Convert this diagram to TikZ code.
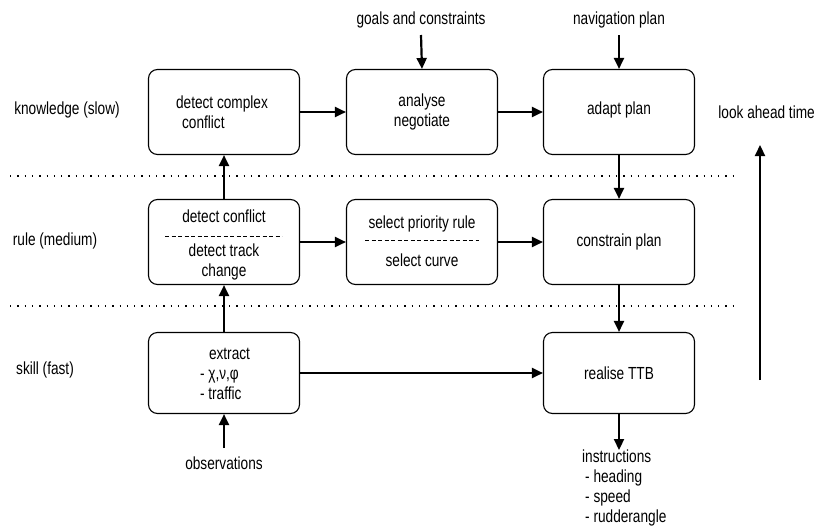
\documentclass[tikz,border=0pt]{standalone}
\usepackage{fontspec}
\setmainfont{Liberation Sans}[FakeStretch=0.78]
\usetikzlibrary{arrows.meta}
\begin{document}
\begin{tikzpicture}[x=1pt,y=-1pt,
  box/.style={draw,line width=1.1pt,rounded corners=9pt,minimum width=151pt,minimum height=85pt,inner sep=0pt},
  flow/.style={line width=2.2pt,-{Triangle[length=11pt,width=10pt]}},
  txt/.style={font=\fontsize{17.5}{20}\selectfont,inner sep=0pt},
  sep/.style={dotted,line width=1.3pt,dash pattern=on 1.3pt off 6pt},
  mid/.style={dashed,line width=1pt,dash pattern=on 4pt off 2.5pt}]
\useasboundingbox (0,0) rectangle (816,525);
\node[box] (b1) at (224,112) {};
\node[box] (b2) at (422,112) {};
\node[box] (b3) at (619,112) {};
\node[box] (b4) at (224,242) {};
\node[box] (b5) at (422,242) {};
\node[box] (b6) at (619,242) {};
\node[box,minimum height=81pt] (b7) at (224,373) {};
\node[box,minimum height=81pt] (b8) at (619,373) {};
% texts
\node[txt,align=left] (t1) at (222,112) {detect complex\\\hspace{6pt}conflict};
\node[txt,align=center] (t2) at (422,112) {analyse\\negotiate};
\node[txt] (t3) at (619,110) {adapt plan};
\node[txt] (t4a) at (224,216) {detect conflict};
\node[txt,align=center] (t4b) at (224,262) {detect track\\change};
\node[txt] (t5a) at (422,224) {select priority rule};
\node[txt] (t5b) at (422,260) {select curve};
\node[txt] (t6) at (619,242) {constrain plan};
\node[txt] (t8) at (619,373) {realise TTB};
\node[txt,align=left] (t7) at (225,374) {\hspace{9pt}extract\\- χ,ν,φ\\- traffic};
\coordinate (d4l) at (165,236); \coordinate (d4r) at (282,236);
\draw[mid] (d4l) -- (d4r);
\coordinate (d5l) at (365,240); \coordinate (d5r) at (479,240);
\draw[mid] (d5l) -- (d5r);
% row labels
\node[txt] (l1) at (67,110) {knowledge (slow)};
\node[txt] (l2) at (55,241) {rule (medium)};
\node[txt] (l3) at (45,370) {skill (fast)};
% separators
\coordinate (s1a) at (10,176); \coordinate (s1b) at (735,176);
\coordinate (s2a) at (10,306); \coordinate (s2b) at (735,306);
\draw[sep] (s1a) -- (s1b);
\draw[sep] (s2a) -- (s2b);
% inputs
\node[txt] (goals) at (421,20) {goals and constraints};
\node[txt] (nav) at (619,20) {navigation plan};
\node[txt] (obs) at (224,463) {observations};
\node[txt,align=left,anchor=north west] (ins) at (582,450) {instructions\\\hspace{3pt}- heading\\\hspace{3pt}- speed\\\hspace{3pt}- rudderangle};
\node[txt,anchor=east] (look) at (815,112) {look ahead time};
\coordinate (la1) at (760,380); \coordinate (la2) at (760,145);
\draw[flow] (la1) -- (la2);
% flows
\draw[flow] (goals.south |- 0,35) -- (b2.north);
\draw[flow] (nav.south |- 0,35) -- (b3.north);
\draw[flow] (b1.east) -- (b2.west);
\draw[flow] (b2.east) -- (b3.west);
\draw[flow] (b3.south) -- (b6.north);
\draw[flow] (b6.south) -- (b8.north);
\draw[flow] (b4.north) -- (b1.south);
\draw[flow] (b7.north) -- (b4.south);
\draw[flow] (b4.east) -- (b5.west);
\draw[flow] (b5.east) -- (b6.west);
\draw[flow] (b7.east) -- (b8.west);
\draw[flow] (obs.north |- 0,448) -- (b7.south);
\draw[flow] (b8.south) -- (b8.south |- 0,450);
\end{tikzpicture}
\end{document}
